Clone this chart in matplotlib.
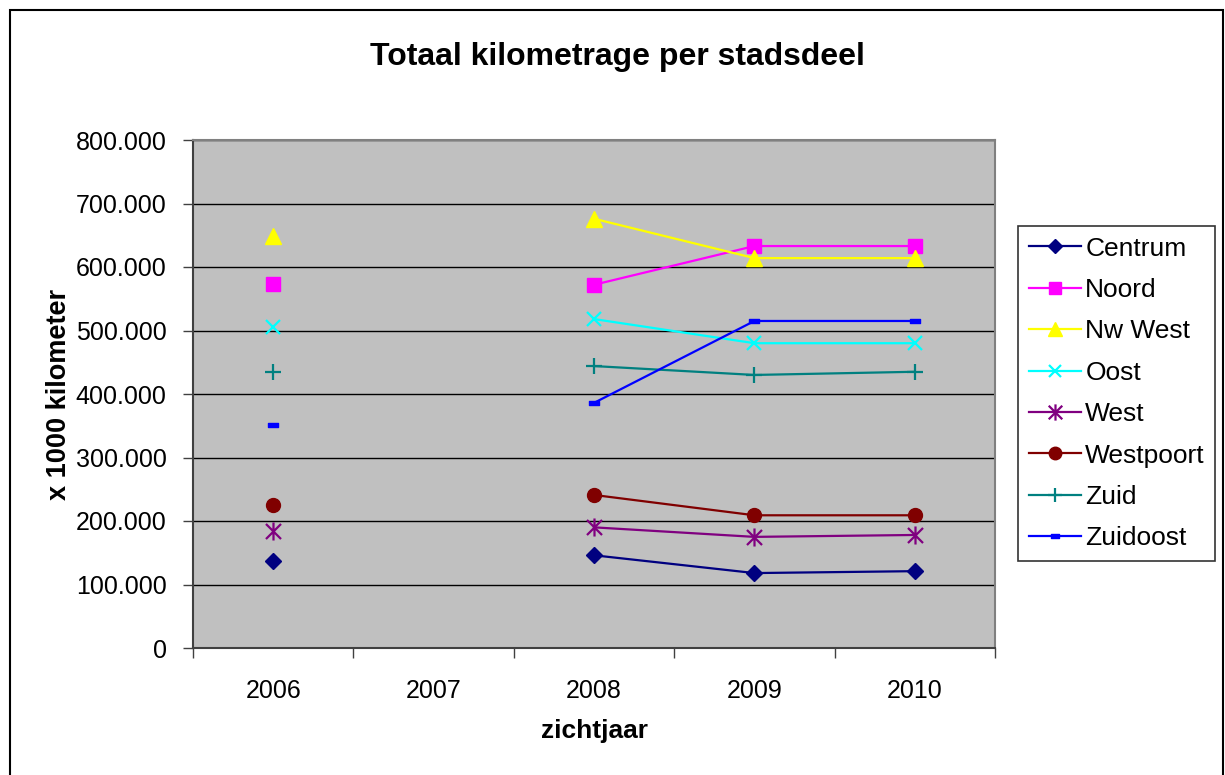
import numpy as np
import matplotlib
matplotlib.use("Agg")
import matplotlib.pyplot as plt
from matplotlib.path import Path
from matplotlib.patches import Rectangle
from matplotlib.ticker import FuncFormatter, FixedLocator

plt.rcParams["font.family"] = ["Liberation Sans", "DejaVu Sans"]

years = ["2006", "2007", "2008", "2009", "2010"]
nan = np.nan

# x 1000 kilometer, 2007 has no data
centrum = [137000, nan, 146000, 118000, 121000]
noord = [573000, nan, 572000, 633000, 633000]
nw_west = [649000, nan, 676000, 614000, 614000]
oost = [505000, nan, 518000, 480000, 480000]
west = [184000, nan, 190000, 175000, 178000]
westpoort = [225000, nan, 241000, 209000, 209000]
zuid = [435000, nan, 444000, 430000, 435000]
zuidoost = [351000, nan, 386000, 515000, 515000]

star = Path([(-1, -1), (1, 1), (-1, 1), (1, -1), (0, -1.2), (0, 1.2)],
            [Path.MOVETO, Path.LINETO, Path.MOVETO, Path.LINETO, Path.MOVETO, Path.LINETO])
dash = Path([(-1, -0.5), (1, -0.5), (1, 0.5), (-1, 0.5), (-1, -0.5)],
            [Path.MOVETO, Path.LINETO, Path.LINETO, Path.LINETO, Path.CLOSEPOLY])

series = [
    ("Centrum", centrum, "#000080", "D", 8),
    ("Noord", noord, "#FF00FF", "s", 10),
    ("Nw West", nw_west, "#FFFF00", "^", 11),
    ("Oost", oost, "#00FFFF", "x", 10),
    ("West", west, "#800080", star, 13),
    ("Westpoort", westpoort, "#800000", "o", 10),
    ("Zuid", zuid, "#008080", "+", 11),
    ("Zuidoost", zuidoost, "#0000FF", dash, 7),
]

W, H = 1225, 775
fig = plt.figure(figsize=(W / 100, H / 100), dpi=100)
fig.patches.append(Rectangle((10 / W, -0.01), 1213 / W, (H - 10 + 8) / H,
                             transform=fig.transFigure, fill=False,
                             edgecolor="black", linewidth=1.5))

ax = fig.add_axes([193 / W, (H - 648) / H, 802 / W, 508 / H])
ax.set_facecolor("#C0C0C0")

x = np.arange(len(years))
for name, vals, col, mk, ms in series:
    filled = mk not in ("x", "+") and mk is not star
    ax.plot(x, vals, color=col, linewidth=1.6, marker=mk, markersize=ms,
            markerfacecolor=col if filled else "none", markeredgecolor=col,
            markeredgewidth=1.6 if not filled else 1.0, label=name, zorder=3)

ax.set_xlim(-0.5, len(years) - 0.5)
ax.set_ylim(0, 800000)
ax.yaxis.set_major_locator(FixedLocator(np.arange(0, 800001, 100000)))
ax.yaxis.set_major_formatter(FuncFormatter(lambda v, p: f"{int(v):,}".replace(",", ".")))
ax.grid(axis="y", color="black", linewidth=1.0, zorder=1)
ax.set_axisbelow(True)

ax.xaxis.set_major_locator(FixedLocator(np.arange(-0.5, len(years), 1.0)))
ax.xaxis.set_major_formatter(FuncFormatter(lambda v, p: ""))
ax.xaxis.set_minor_locator(FixedLocator(x))
ax.set_xticklabels(years, minor=True)
ax.tick_params(axis="x", which="major", direction="out", length=7, width=1, color="#404040")
ax.tick_params(axis="x", which="minor", length=0, pad=22, labelsize=18)
ax.tick_params(axis="y", direction="out", length=7, width=1, color="#404040",
               labelsize=18, pad=12)

for side in ("top", "right"):
    ax.spines[side].set_color("#808080")
    ax.spines[side].set_linewidth(1.5)
for side in ("left", "bottom"):
    ax.spines[side].set_color("#404040")
    ax.spines[side].set_linewidth(1.5)

ax.set_ylabel("x 1000 kilometer", fontsize=19.5, fontweight="bold", labelpad=3)
ax.set_xlabel("zichtjaar", fontsize=19, fontweight="bold", labelpad=12)
fig.text(617 / W, 1 - 57 / H, "Totaal kilometrage per stadsdeel", ha="center",
         va="center", fontsize=23, fontweight="bold")

leg = fig.legend(loc="upper left", bbox_to_anchor=(1018 / W, 1 - 226 / H),
                 fontsize=19, frameon=True, fancybox=False, borderpad=0.4,
                 labelspacing=0.66, handlelength=2.0, handletextpad=0.15,
                 markerscale=0.9, borderaxespad=0)
leg.get_frame().set_edgecolor("black")
leg.get_frame().set_linewidth(1.2)

fig.savefig("out.png", dpi=100)
